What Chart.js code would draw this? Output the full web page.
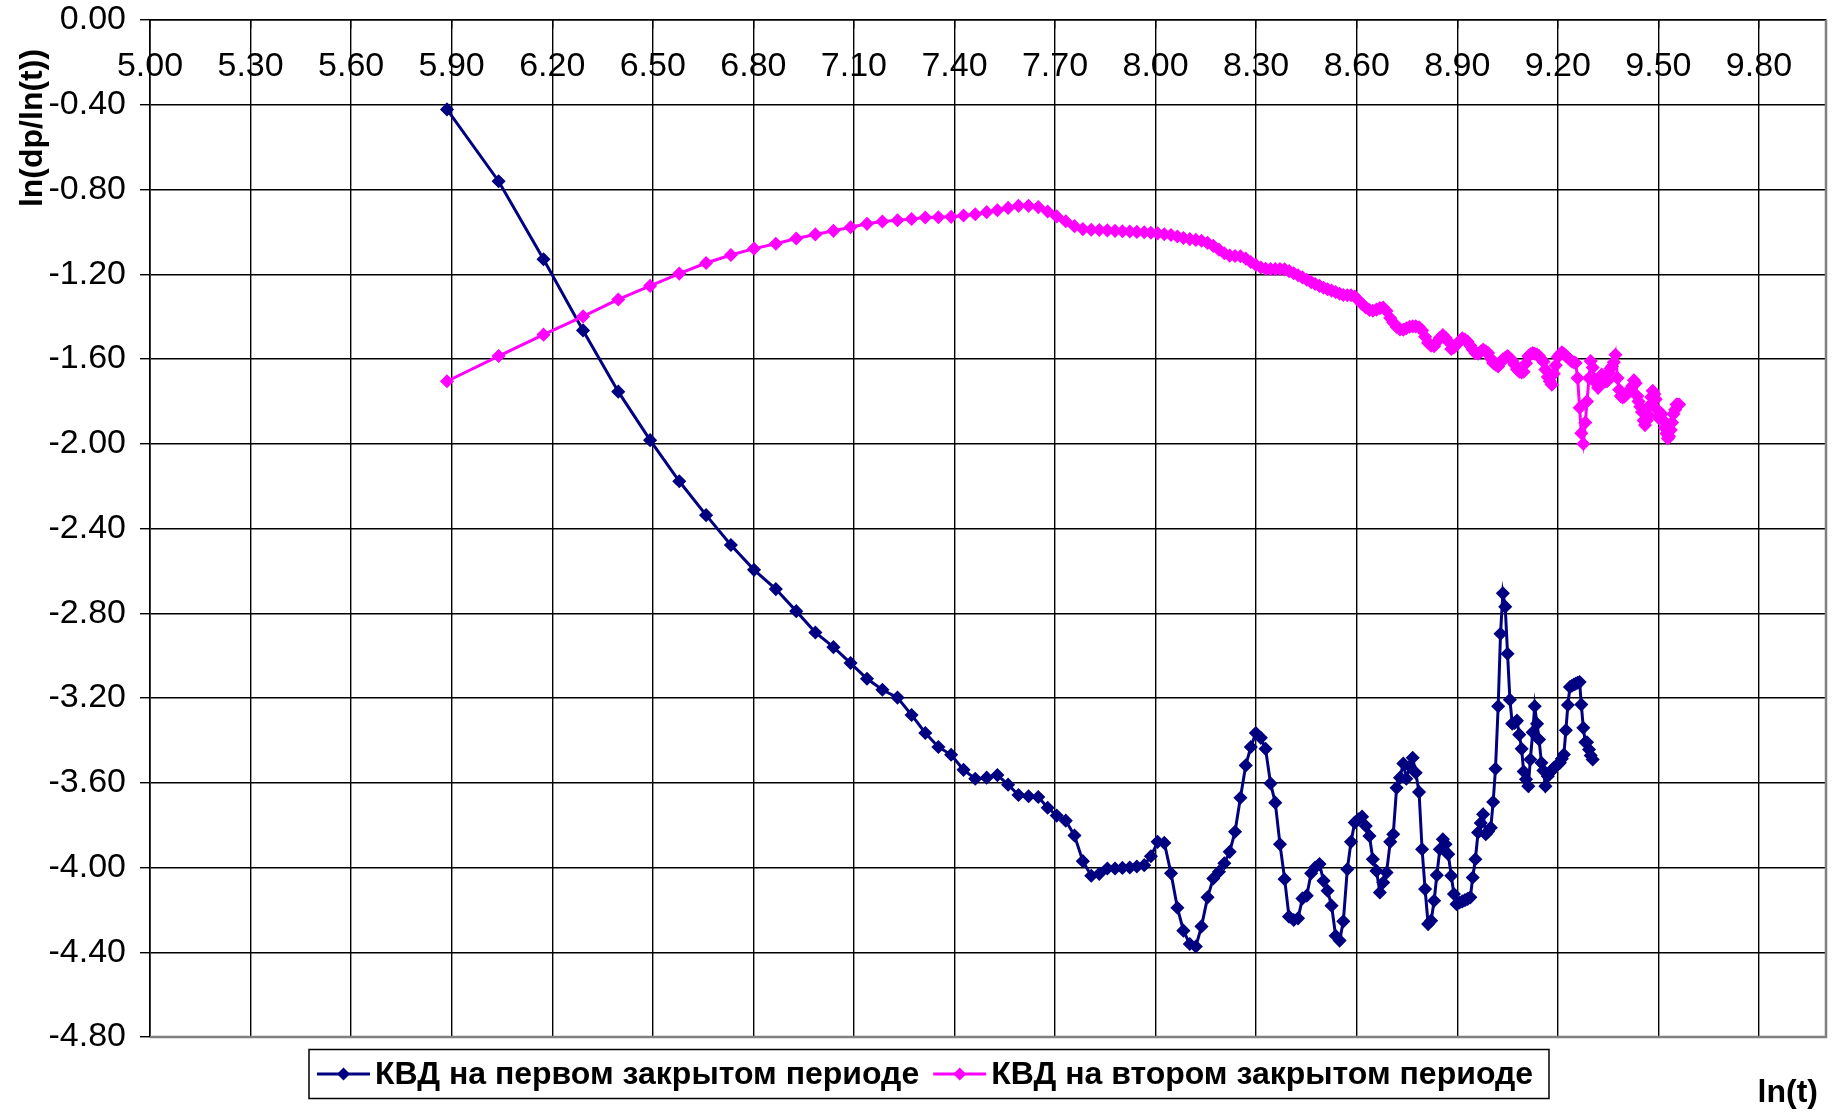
<!DOCTYPE html>
<html>
<head>
<meta charset="utf-8">
<script src="https://cdn.jsdelivr.net/npm/chart.js@4.4.1/dist/chart.umd.min.js"></script>
<style>
  html, body { margin: 0; padding: 0; background: #fff; }
  #wrap { width: 1834px; height: 1112px; position: relative; }
</style>
</head>
<body>
<div id="wrap"><canvas id="kvdChart"></canvas></div>
<script>
// -------------------- DATA --------------------
// ln(t) of every measurement (both series share the same time steps)
const lnT = [
  5.886, 6.040, 6.174, 6.292, 6.397, 6.492, 6.579, 6.659, 6.733, 6.802,
  6.867, 6.928, 6.985, 7.039, 7.090, 7.139, 7.185, 7.230, 7.272, 7.313,
  7.352, 7.390, 7.427, 7.462, 7.496, 7.528, 7.560, 7.591, 7.621, 7.650,
  7.678, 7.705, 7.732, 7.758, 7.783, 7.808, 7.832, 7.856, 7.879, 7.901,
  7.923, 7.944, 7.966, 7.986, 8.006, 8.026, 8.046, 8.065, 8.083, 8.102,
  8.120, 8.137, 8.155, 8.172, 8.189, 8.205, 8.221, 8.237, 8.253, 8.269,
  8.284, 8.299, 8.314, 8.328, 8.343, 8.357, 8.371, 8.385, 8.398, 8.412,
  8.425, 8.438, 8.451, 8.464, 8.476, 8.489, 8.501, 8.513, 8.525, 8.537,
  8.549, 8.560, 8.572, 8.583, 8.594, 8.605, 8.616, 8.627, 8.638, 8.648,
  8.659, 8.669, 8.679, 8.689, 8.700, 8.709, 8.719, 8.729, 8.739, 8.748,
  8.758, 8.767, 8.776, 8.786, 8.795, 8.804, 8.813, 8.822, 8.831, 8.839,
  8.848, 8.857, 8.865, 8.873, 8.882, 8.890, 8.898, 8.907, 8.915, 8.923,
  8.931, 8.939, 8.946, 8.954, 8.962, 8.970, 8.977, 8.985, 8.992, 9.000,
  9.007, 9.014, 9.022, 9.029, 9.036, 9.043, 9.050, 9.057, 9.064, 9.071,
  9.078, 9.085, 9.092, 9.098, 9.105, 9.112, 9.118, 9.125, 9.131, 9.138,
  9.144, 9.151, 9.157, 9.163, 9.170, 9.176, 9.182, 9.188, 9.194, 9.200,
  9.206, 9.212, 9.218, 9.224, 9.230, 9.236, 9.242, 9.248, 9.253, 9.259,
  9.265, 9.270, 9.276, 9.282, 9.287, 9.293, 9.298, 9.304, 9.309, 9.315,
  9.320, 9.325, 9.331, 9.336, 9.341, 9.347, 9.352, 9.357, 9.362, 9.367,
  9.372, 9.378, 9.383, 9.388, 9.393, 9.398, 9.403, 9.408, 9.412, 9.417,
  9.422, 9.427, 9.432, 9.437, 9.441, 9.446, 9.451, 9.456, 9.460, 9.465,
  9.470, 9.474, 9.479, 9.483, 9.488, 9.492, 9.497, 9.502, 9.506, 9.510,
  9.515, 9.519, 9.524, 9.528, 9.532, 9.537, 9.541, 9.545, 9.550, 9.554,
  9.558, 9.562
];

// ln(dp/ln(t)), first shut-in period
const kvdFirst = [
  -0.422, -0.761, -1.129, -1.465, -1.754, -1.983, -2.177, -2.337, -2.478, -2.595,
  -2.686, -2.790, -2.891, -2.960, -3.035, -3.109, -3.161, -3.198, -3.280, -3.365,
  -3.431, -3.468, -3.539, -3.581, -3.576, -3.564, -3.609, -3.658, -3.664, -3.667,
  -3.718, -3.755, -3.779, -3.849, -3.970, -4.039, -4.030, -4.005, -4.005, -4.002,
  -4.000, -3.995, -3.989, -3.947, -3.879, -3.884, -4.027, -4.190, -4.298, -4.361,
  -4.373, -4.278, -4.141, -4.052, -4.020, -3.980, -3.926, -3.831, -3.671, -3.518,
  -3.431, -3.365, -3.388, -3.440, -3.603, -3.694, -3.890, -4.055, -4.232, -4.248,
  -4.240, -4.146, -4.133, -4.027, -4.000, -3.984, -4.063, -4.110, -4.180, -4.322,
  -4.345, -4.254, -4.008, -3.879, -3.788, -3.773, -3.760, -3.804, -3.851, -3.961,
  -4.016, -4.118, -4.071, -4.024, -3.879, -3.843, -3.624, -3.576, -3.509, -3.581,
  -3.522, -3.482, -3.553, -3.644, -3.914, -4.102, -4.267, -4.251, -4.157, -4.036,
  -3.914, -3.867, -3.890, -3.937, -4.039, -4.125, -4.173, -4.165, -4.160, -4.154,
  -4.148, -4.141, -4.047, -3.961, -3.835, -3.790, -3.749, -3.843, -3.830, -3.812,
  -3.691, -3.534, -3.239, -2.897, -2.706, -2.769, -2.991, -3.208, -3.321, -3.318,
  -3.307, -3.373, -3.440, -3.547, -3.584, -3.616, -3.490, -3.362, -3.239, -3.322,
  -3.396, -3.506, -3.542, -3.616, -3.569, -3.553, -3.540, -3.530, -3.522, -3.514,
  -3.506, -3.487, -3.467, -3.352, -3.233, -3.148, -3.142, -3.136, -3.133, -3.128,
  -3.125, -3.231, -3.341, -3.409, -3.409, -3.443, -3.471, -3.490
];

// ln(dp/ln(t)), second shut-in period
const kvdSecond = [
  -1.705, -1.586, -1.485, -1.399, -1.319, -1.255, -1.197, -1.147, -1.109, -1.079,
  -1.056, -1.031, -1.012, -0.995, -0.978, -0.962, -0.951, -0.945, -0.939, -0.932,
  -0.931, -0.929, -0.923, -0.917, -0.907, -0.898, -0.887, -0.877, -0.877, -0.883,
  -0.904, -0.927, -0.950, -0.973, -0.987, -0.990, -0.991, -0.993, -0.995, -0.997,
  -0.998, -1.000, -1.002, -1.004, -1.007, -1.011, -1.015, -1.022, -1.029, -1.034,
  -1.038, -1.042, -1.052, -1.066, -1.084, -1.101, -1.112, -1.114, -1.115, -1.126,
  -1.142, -1.156, -1.168, -1.174, -1.176, -1.176, -1.175, -1.177, -1.185, -1.195,
  -1.205, -1.215, -1.226, -1.237, -1.246, -1.255, -1.264, -1.271, -1.277, -1.284,
  -1.292, -1.298, -1.299, -1.299, -1.305, -1.323, -1.341, -1.357, -1.369, -1.372,
  -1.367, -1.360, -1.357, -1.374, -1.407, -1.428, -1.449, -1.460, -1.462, -1.455,
  -1.448, -1.446, -1.446, -1.450, -1.465, -1.495, -1.524, -1.537, -1.540, -1.520,
  -1.500, -1.487, -1.500, -1.517, -1.553, -1.545, -1.533, -1.515, -1.502, -1.508,
  -1.518, -1.538, -1.555, -1.572, -1.575, -1.565, -1.556, -1.564, -1.572, -1.598,
  -1.619, -1.627, -1.635, -1.618, -1.601, -1.594, -1.586, -1.595, -1.610, -1.627,
  -1.648, -1.660, -1.664, -1.660, -1.620, -1.587, -1.578, -1.572, -1.575, -1.579,
  -1.586, -1.601, -1.613, -1.650, -1.685, -1.705, -1.721, -1.670, -1.630, -1.590,
  -1.578, -1.569, -1.575, -1.585, -1.593, -1.603, -1.612, -1.616, -1.619, -1.690,
  -1.830, -1.950, -2.000, -1.900, -1.800, -1.690, -1.610, -1.640, -1.695, -1.716,
  -1.736, -1.705, -1.674, -1.690, -1.706, -1.705, -1.665, -1.645, -1.634, -1.615,
  -1.580, -1.690, -1.745, -1.775, -1.782, -1.778, -1.770, -1.760, -1.752, -1.742,
  -1.727, -1.700, -1.715, -1.775, -1.800, -1.825, -1.850, -1.890, -1.912, -1.890,
  -1.865, -1.820, -1.780, -1.750, -1.765, -1.790, -1.840, -1.880, -1.862, -1.860,
  -1.890, -1.925, -1.952, -1.975, -1.965, -1.935, -1.900, -1.860, -1.840, -1.815,
  -1.815, -1.815
];

const xTicks = [5.0, 5.3, 5.6, 5.9, 6.2, 6.5, 6.8, 7.1, 7.4, 7.7, 8.0, 8.3, 8.6, 8.9, 9.2, 9.5, 9.8];
const yTicks = [0, -0.4, -0.8, -1.2, -1.6, -2.0, -2.4, -2.8, -3.2, -3.6, -4.0, -4.4, -4.8];

const seriesNames = ['КВД на первом закрытом периоде', 'КВД на втором закрытом периоде'];
const seriesColors = ['#000080', '#FF00FF'];

const FONT = '"Liberation Sans", Arial, sans-serif';

// -------------------- EXTRA DRAWING --------------------
// plot frame (grey right/bottom edge), axis titles and boxed legend
const framePlugin = {
  id: 'frame',
  beforeDatasetsDraw(chart) {
    const a = chart.chartArea;
    const ctx = chart.ctx;
    ctx.save();
    ctx.strokeStyle = '#808080';
    ctx.lineWidth = 2.5;
    ctx.beginPath();
    ctx.moveTo(a.left, a.bottom);
    ctx.lineTo(a.right, a.bottom);
    ctx.lineTo(a.right, a.top);
    ctx.stroke();
    ctx.restore();
  },
  afterDraw(chart) {
    const ctx = chart.ctx;
    ctx.save();
    ctx.fillStyle = '#000';
    ctx.font = 'bold 32px ' + FONT;

    // y title
    ctx.save();
    ctx.translate(33, 128);
    ctx.rotate(-Math.PI / 2);
    ctx.textAlign = 'center';
    ctx.textBaseline = 'middle';
    ctx.fillText('ln(dp/ln(t))', 0, 0);
    ctx.restore();

    // x title
    ctx.textAlign = 'right';
    ctx.textBaseline = 'middle';
    ctx.fillText('ln(t)', 1818, 1093);

    // legend
    ctx.strokeStyle = '#000';
    ctx.lineWidth = 1.5;
    ctx.strokeRect(309, 1049.5, 1240, 49);
    const ly = 1074;
    let lx = 317;
    chart.data.datasets.forEach(ds => {
      ctx.strokeStyle = ds.borderColor;
      ctx.lineWidth = 3;
      ctx.beginPath();
      ctx.moveTo(lx, ly);
      ctx.lineTo(lx + 53, ly);
      ctx.stroke();
      ctx.fillStyle = ds.borderColor;
      ctx.beginPath();
      ctx.moveTo(lx + 26.5, ly - 6.5);
      ctx.lineTo(lx + 33, ly);
      ctx.lineTo(lx + 26.5, ly + 6.5);
      ctx.lineTo(lx + 20, ly);
      ctx.closePath();
      ctx.fill();
      ctx.fillStyle = '#000';
      ctx.textAlign = 'left';
      ctx.textBaseline = 'middle';
      ctx.fillText(ds.label, lx + 58, ly + 1);
      lx += 58 + ctx.measureText(ds.label).width + 14;
    });
    ctx.restore();
  }
};

// -------------------- CHART --------------------
const toPoints = ys => ys.map((y, i) => ({ x: lnT[i], y: y }));

new Chart(document.getElementById('kvdChart'), {
  type: 'scatter',
  data: {
    datasets: [
      {
        label: seriesNames[0],
        data: toPoints(kvdFirst),
        showLine: true,
        borderColor: seriesColors[0],
        backgroundColor: seriesColors[0],
        borderWidth: 3,
        pointStyle: 'rectRot',
        pointRadius: 6,
        pointBorderWidth: 1.5,
        tension: 0,
        order: 1
      },
      {
        label: seriesNames[1],
        data: toPoints(kvdSecond),
        showLine: true,
        borderColor: seriesColors[1],
        backgroundColor: seriesColors[1],
        borderWidth: 3,
        pointStyle: 'rectRot',
        pointRadius: 6,
        pointBorderWidth: 1.5,
        tension: 0,
        order: 0
      }
    ]
  },
  options: {
    responsive: true,
    maintainAspectRatio: false,
    animation: false,
    layout: { padding: { left: 0, top: 20, right: 8, bottom: 75 } },
    plugins: {
      legend: { display: false },
      tooltip: { enabled: false }
    },
    scales: {
      x: {
        type: 'linear',
        position: { y: 0 },
        min: 5,
        max: 10,
        afterBuildTicks: s => { s.ticks = xTicks.map(v => ({ value: v })); },
        grid: { color: '#000', lineWidth: 1.4, tickLength: 8 },
        border: { color: '#000', width: 1.6 },
        ticks: {
          color: '#000',
          font: { family: FONT, size: 34 },
          padding: 18,
          maxRotation: 0,
          autoSkip: false,
          callback: v => v.toFixed(2)
        }
      },
      y: {
        type: 'linear',
        position: 'left',
        min: -4.8,
        max: 0,
        afterBuildTicks: s => { s.ticks = yTicks.map(v => ({ value: v })); },
        afterFit: s => {
          s.width = 150;
          s.paddingTop = 0;
          s.paddingBottom = 0;
        },
        grid: { color: '#000', lineWidth: 1.4, tickLength: 10 },
        border: { color: '#000', width: 1.6 },
        ticks: {
          color: '#000',
          font: { family: FONT, size: 34 },
          padding: 14,
          callback: v => v.toFixed(2)
        }
      }
    }
  },
  plugins: [framePlugin]
});
</script>
</body>
</html>
